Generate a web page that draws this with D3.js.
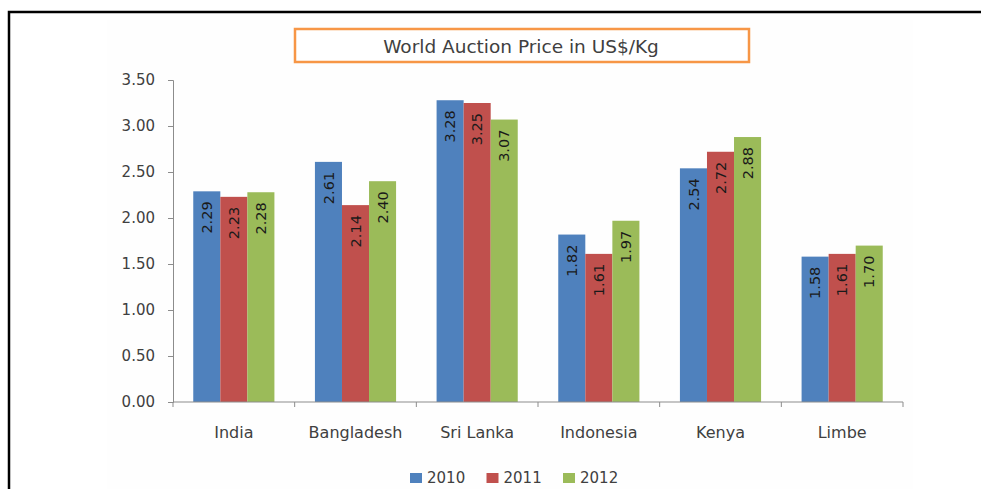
<!DOCTYPE html>
<html>
<head>
<meta charset="utf-8">
<script src="https://cdn.jsdelivr.net/npm/d3@7"></script>
<style>
  body { margin: 0; background: #fff; }
  text { font-family: "DejaVu Sans", sans-serif; }
</style>
</head>
<body>
<div id="chart"></div>
<script>
// data
const countries = ["India", "Bangladesh", "Sri Lanka", "Indonesia", "Kenya", "Limbe"]
const years = ["2010", "2011", "2012"]
const values2010 = [2.29, 2.61, 3.28, 1.82, 2.54, 1.58]
const values2011 = [2.23, 2.14, 3.25, 1.61, 2.72, 1.61]
const values2012 = [2.28, 2.40, 3.07, 1.97, 2.88, 1.70]
const yTicks = [0, 0.5, 1, 1.5, 2, 2.5, 3, 3.5]
const colors = ["#4f81bd", "#c0504d", "#9bbb59"]

const seriesValues = [values2010, values2011, values2012]
const rows = countries.map((c, i) => ({
  country: c,
  vals: years.map((y, j) => ({ year: y, value: seriesValues[j][i], color: colors[j] }))
}))

const W = 981, H = 489
const svg = d3.select("#chart").append("svg")
  .attr("width", W).attr("height", H)

// faint plot area background + outer frame
svg.append("rect").attr("x", 107).attr("y", 20).attr("width", 806).attr("height", 469)
  .attr("fill", "#fefefe")
svg.append("path")
  .attr("d", `M9,${H} V12 H${W}`)
  .attr("fill", "none").attr("stroke", "#000").attr("stroke-width", 2.5)

// title box
svg.append("rect").attr("x", 295).attr("y", 29).attr("width", 454).attr("height", 33)
  .attr("fill", "#fff").attr("stroke", "#f79646").attr("stroke-width", 2.5)
svg.append("text").attr("x", 521).attr("y", 47).attr("dy", "0.35em")
  .attr("text-anchor", "middle").attr("font-size", 18.5).attr("fill", "#404040")
  .text("World Auction Price in US$/Kg")

const margin = { left: 173, right: 78, top: 80, bottom: 87 }
const x0 = d3.scaleBand().domain(countries)
  .range([margin.left, W - margin.right]).paddingInner(0.333).paddingOuter(0.1665)
const x1 = d3.scaleBand().domain(years).range([0, x0.bandwidth()])
const y = d3.scaleLinear().domain([0, 3.5]).range([H - margin.bottom, margin.top])

// y axis
const yAxis = svg.append("g").attr("transform", `translate(${margin.left},0)`)
  .call(d3.axisLeft(y).tickValues(yTicks).tickFormat(d3.format(".2f")).tickSize(5).tickPadding(13))
yAxis.select(".domain").attr("stroke", "#8c8c8c")
yAxis.selectAll(".tick line").attr("stroke", "#8c8c8c")
yAxis.selectAll(".tick text").attr("font-size", 15).attr("fill", "#404040")
  .attr("font-family", "DejaVu Sans, sans-serif")

// bars
const groups = svg.selectAll(".grp").data(rows).join("g")
  .attr("transform", d => `translate(${x0(d.country)},0)`)
groups.selectAll("rect").data(d => d.vals).join("rect")
  .attr("x", d => x1(d.year))
  .attr("y", d => y(d.value))
  .attr("width", x1.bandwidth())
  .attr("height", d => y(0) - y(d.value))
  .attr("fill", d => d.color)
groups.selectAll(".lbl").data(d => d.vals).join("text")
  .attr("class", "lbl")
  .attr("transform", d => `translate(${x1(d.year) + x1.bandwidth() / 2},${y(d.value) + 10}) rotate(-90)`)
  .attr("text-anchor", "end").attr("dy", "0.35em")
  .attr("font-size", 14.5).attr("fill", "#1a1a1a")
  .text(d => d.value.toFixed(2))

// x axis with ticks between categories
const xg = svg.append("g")
xg.append("line").attr("x1", margin.left).attr("x2", W - margin.right)
  .attr("y1", y(0)).attr("y2", y(0)).attr("stroke", "#8c8c8c")
const step = x0.step()
xg.selectAll(".xt").data(d3.range(countries.length + 1)).join("line")
  .attr("x1", i => margin.left + i * step).attr("x2", i => margin.left + i * step)
  .attr("y1", y(0)).attr("y2", y(0) + 5).attr("stroke", "#8c8c8c")
xg.selectAll(".xl").data(countries).join("text")
  .attr("x", d => x0(d) + x0.bandwidth() / 2).attr("y", y(0) + 30)
  .attr("dy", "0.35em").attr("text-anchor", "middle")
  .attr("font-size", 16).attr("fill", "#404040")
  .text(d => d)

// legend
const legend = svg.append("g").attr("transform", "translate(410,478)")
const items = legend.selectAll("g").data(years).join("g")
  .attr("transform", (d, i) => `translate(${i * 76.5},0)`)
items.append("rect").attr("x", 0).attr("y", -5).attr("width", 12).attr("height", 10)
  .attr("fill", (d, i) => colors[i])
items.append("text").attr("x", 17).attr("dy", "0.35em")
  .attr("font-size", 15).attr("fill", "#404040").text(d => d)
</script>
</body>
</html>
